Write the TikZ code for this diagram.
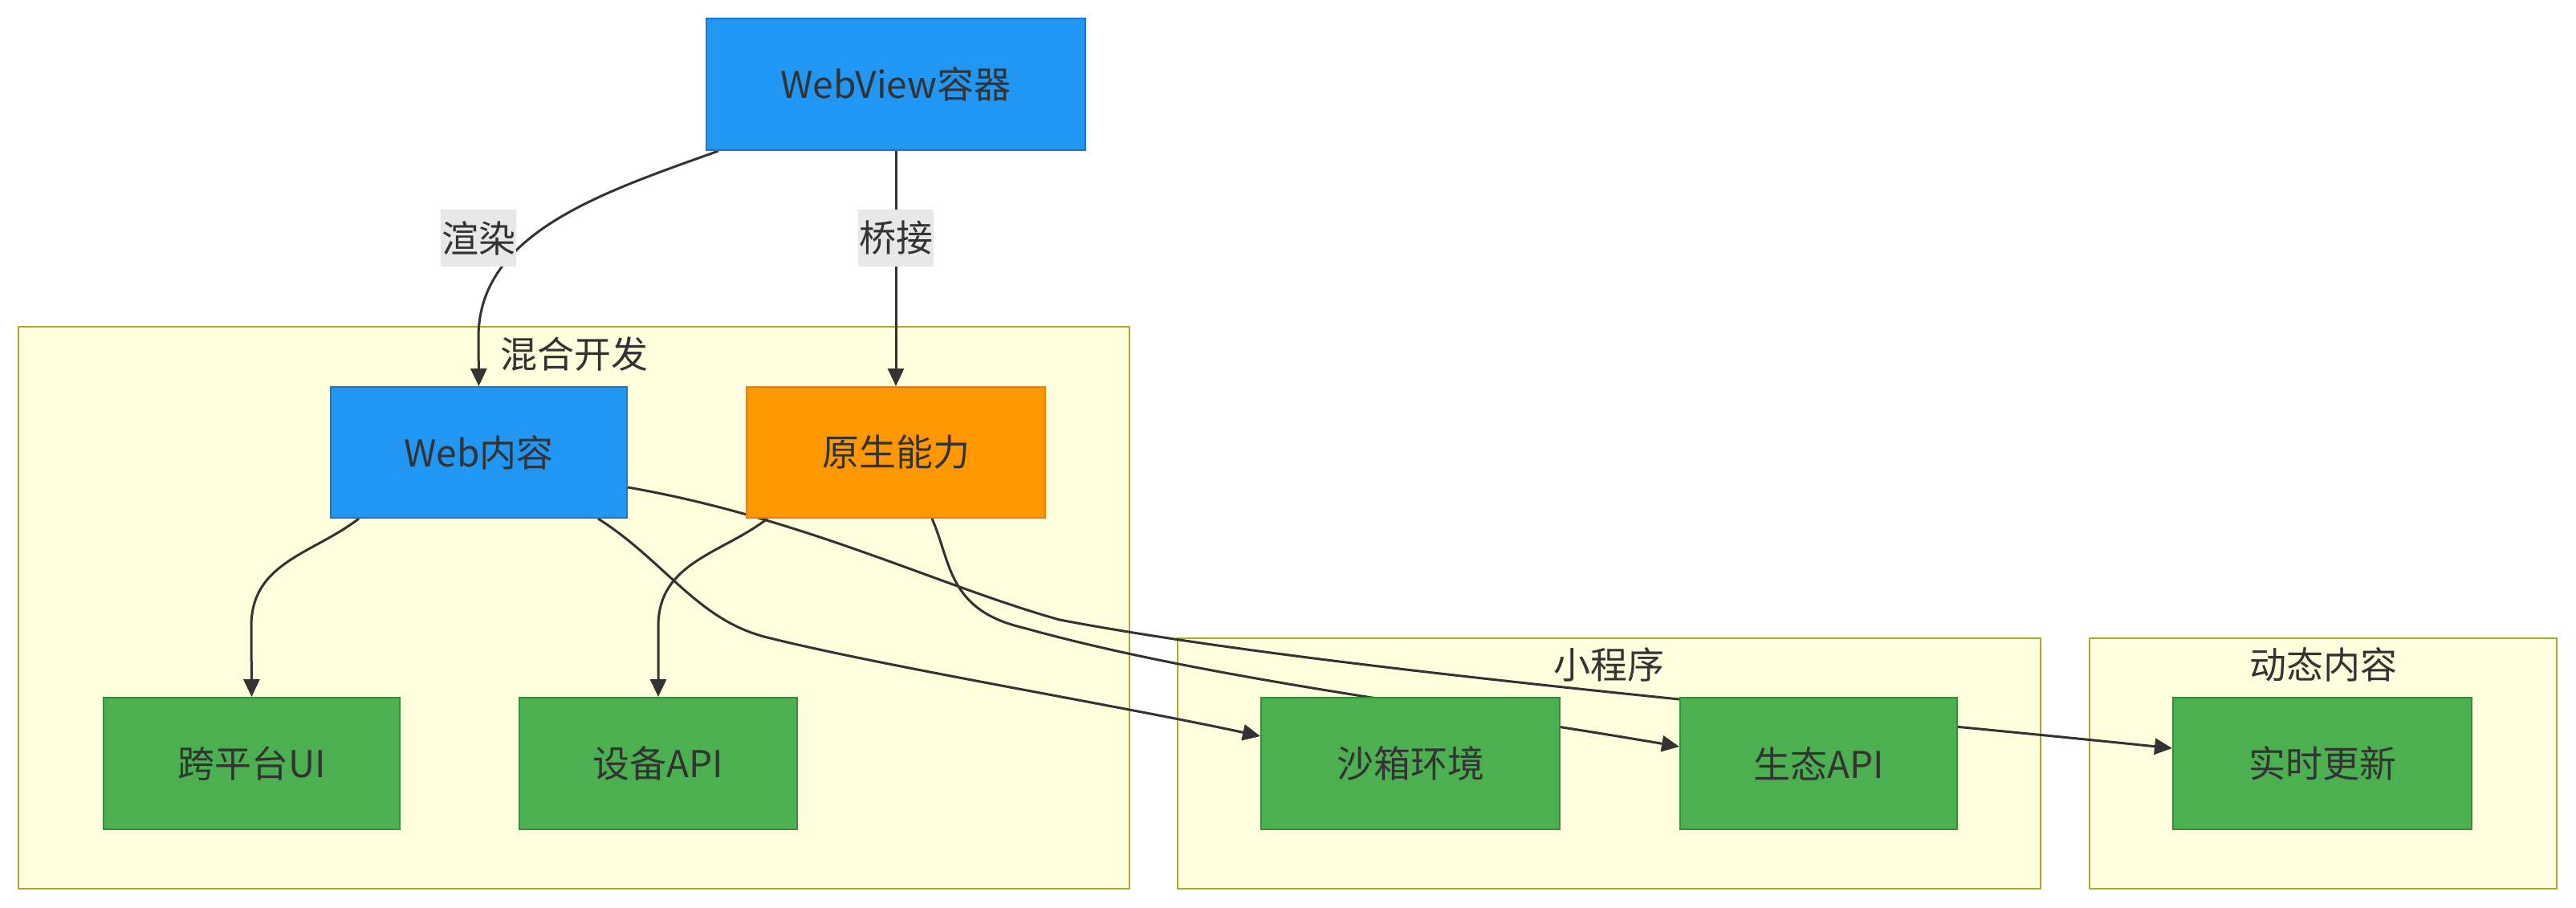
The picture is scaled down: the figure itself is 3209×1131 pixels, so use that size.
\documentclass[tikz,border=0pt]{standalone}
\usepackage{fontspec}
\setmainfont{Noto Sans CJK SC}
\usetikzlibrary{arrows.meta}
\definecolor{bluefill}{HTML}{2196F3}
\definecolor{bluedraw}{HTML}{1976D2}
\definecolor{orangefill}{HTML}{FF9800}
\definecolor{orangedraw}{HTML}{F57C00}
\definecolor{greenfill}{HTML}{4CAF50}
\definecolor{greendraw}{HTML}{388E3C}
\definecolor{clusterfill}{HTML}{FFFFDE}
\definecolor{clusterdraw}{HTML}{AAAA33}
\definecolor{txt}{HTML}{333333}
\definecolor{lblbg}{HTML}{E8E8E8}
\pgfdeclarelayer{clusterlayer}
\pgfdeclarelayer{edgelayer}
\pgfsetlayers{clusterlayer,edgelayer,main}
\begin{document}
\begin{tikzpicture}[x=1pt,y=-1pt,
  box/.style={rectangle, line width=2pt, minimum height=164pt, inner sep=0pt,
    font=\fontsize{46}{54}\selectfont, text=txt},
  bluebox/.style={box, fill=bluefill, draw=bluedraw},
  orangebox/.style={box, fill=orangefill, draw=orangedraw},
  greenbox/.style={box, fill=greenfill, draw=greendraw},
  cluster/.style={rectangle, fill=clusterfill, draw=clusterdraw, line width=2pt, inner sep=0pt},
  ctitle/.style={font=\fontsize{46}{54}\selectfont, text=txt, inner sep=0pt},
  edge/.style={draw=txt, line width=3pt, -{Triangle[length=22pt,width=20pt]}},
  lbl/.style={fill=lblbg, text=txt, font=\fontsize{46}{54}\selectfont, inner xsep=1pt, minimum height=71pt}
]
\useasboundingbox (0,0) rectangle (3209,1131);

\begin{pgfonlayer}{clusterlayer}
  \node[cluster, minimum width=1384pt, minimum height=700pt] (hybrid) at (715,757) {};
  \node[cluster, minimum width=1075pt, minimum height=312pt] (mini) at (2004.5,951) {};
  \node[cluster, minimum width=582pt, minimum height=312pt] (dyn) at (2894,951) {};
  \node[ctitle] (hybridt) at (715,441) {混合开发};
  \node[ctitle] (minit) at (2004.5,828) {小程序};
  \node[ctitle] (dynt) at (2894,828) {动态内容};
\end{pgfonlayer}

\node[bluebox, minimum width=472pt] (webview) at (1116,105) {WebView容器};
\node[bluebox, minimum width=369pt, minimum height=163pt] (web) at (596.5,563.5) {Web内容};
\node[orangebox, minimum width=372pt, minimum height=163pt] (native) at (1116,563.5) {原生能力};
\node[greenbox, minimum width=369pt] (cross) at (313.5,951) {跨平台UI};
\node[greenbox, minimum width=346pt] (device) at (820,951) {设备API};
\node[greenbox, minimum width=372pt] (sandbox) at (1757,951) {沙箱环境};
\node[greenbox, minimum width=345pt] (eco) at (2265.5,951) {生态API};
\node[greenbox, minimum width=372pt] (rt) at (2893,951) {实时更新};

\begin{pgfonlayer}{edgelayer}
  \draw[edge] ([xshift=-221pt]webview.south) .. controls (750,240) and (596,290) .. (596,420) -- (web.north);
  \node[lbl] (lrender) at (596,296.5) {渲染};
  \draw[edge] (webview.south) -- (native.north);
  \node[lbl] (lbridge) at (1116,296.5) {桥接};
  \draw[edge] ([xshift=-149.5pt]web.south) .. controls (390,690) and (313,700) .. (313,780) -- (cross.north);
  \draw[edge] ([xshift=-160pt]native.south) .. controls (899,690) and (820,700) .. (820,780) -- (device.north);
  \draw[edge] ([xshift=148.5pt]web.south) .. controls (830,700) and (870,775) .. (960,795)
     .. controls (1100,830) and (1400,880) .. ([yshift=34pt]sandbox.west);
  \draw[edge] ([xshift=45pt]native.south) .. controls (1185,700) and (1180,760) .. (1275,782)
     .. controls (1500,845) and (1800,880) .. ([yshift=21pt]eco.west);
  \draw[edge] ([yshift=-43.5pt]web.east) .. controls (1000,645) and (1170,730) .. (1320,772)
     .. controls (1650,835) and (2300,890) .. ([yshift=19pt]rt.west);
\end{pgfonlayer}
\end{tikzpicture}
\end{document}
